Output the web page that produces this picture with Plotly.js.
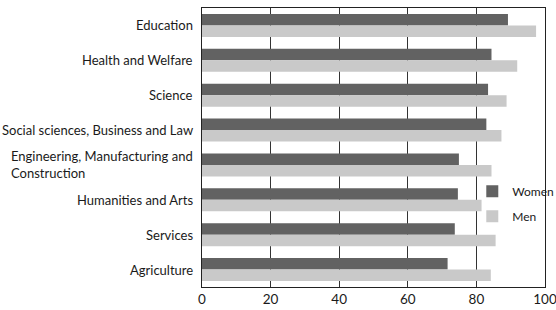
<!DOCTYPE html>
<html>
<head>
<meta charset="utf-8">
<script src="https://cdn.plot.ly/plotly-3.0.1.min.js"></script>
<style>html,body{margin:0;padding:0;background:#fff;}#chart{width:556px;height:310px;}</style>
</head>
<body>
<div id="chart"></div>
<script>
var categories = ["Education", "Health and Welfare", "Science", "Social sciences, Business and Law",
  "Engineering, Manufacturing and<br>Construction", "Humanities and Arts", "Services", "Agriculture"];
var women = [89.2, 84.4, 83.4, 82.9, 74.9, 74.6, 73.7, 71.6];
var men = [97.4, 91.9, 88.8, 87.3, 84.4, 81.5, 85.6, 84.2];
var xTicks = [0, 20, 40, 60, 80, 100];

var FONT = "Lato, Arial, sans-serif";

var traces = [
  {type: "bar", orientation: "h", name: "Women", legendgroup: "w", y: categories, x: women,
   marker: {color: "#626262"}},
  {type: "bar", orientation: "h", name: "Men", legendgroup: "m", y: categories, x: men,
   marker: {color: "#c9c9c9"}}
];

var annotations = categories.map(function (c) {
  return {text: c, x: 0, xref: "paper", xanchor: "right", xshift: -7,
    y: c, yref: "y", yanchor: "middle", align: "left", showarrow: false,
    font: {family: FONT, size: 13, color: "#1a1a1a"}};
});

var layout = {
  width: 556, height: 310,
  margin: {l: 202, r: 11, t: 8, b: 23, pad: 0, autoexpand: false},
  paper_bgcolor: "#ffffff", plot_bgcolor: "#ffffff",
  barmode: "group", bargap: 0.34, bargroupgap: 0,
  font: {family: FONT, size: 13, color: "#1a1a1a"},
  xaxis: {range: [0, 100], tickvals: xTicks, ticktext: xTicks.map(String),
    showgrid: true, gridcolor: "#333333", gridwidth: 1,
    showline: true, linecolor: "#222222", linewidth: 1, mirror: true,
    ticks: "", zeroline: false, ticklabeloverflow: "allow", automargin: false,
    tickfont: {family: FONT, size: 13.5, color: "#1a1a1a"}},
  yaxis: {autorange: "reversed", showticklabels: false, ticks: "",
    showline: true, linecolor: "#222222", linewidth: 1, mirror: true, showgrid: false},
  legend: {x: 0.788, y: 0.395, xanchor: "left", yanchor: "top", bgcolor: "rgba(0,0,0,0)",
    traceorder: "grouped", tracegroupgap: 6,
    font: {family: FONT, size: 12, color: "#1a1a1a"}, itemwidth: 30},
  annotations: annotations,
  showlegend: true
};

Plotly.newPlot("chart", traces, layout, {displayModeBar: false, staticPlot: true});
</script>
</body>
</html>
